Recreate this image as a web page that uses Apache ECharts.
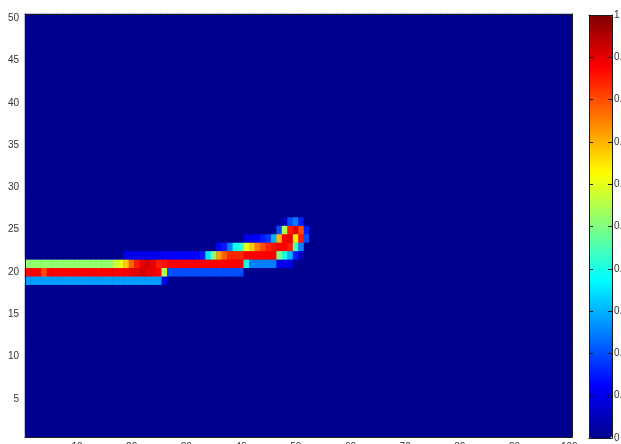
<!DOCTYPE html>
<html>
<head>
<meta charset="utf-8">
<script src="https://cdn.jsdelivr.net/npm/echarts@6/dist/echarts.min.js"></script>
<style>html,body{margin:0;padding:0;background:#fff}#c{width:621px;height:444px}</style>
</head>
<body>
<div id="c"></div>
<script>
// Grid size (columns 1..100, rows 1..50)
const nCols = 100;
const nRows = 50;
const xTickLabels = [10, 20, 30, 40, 50, 60, 70, 80, 90, 100];
const yTickLabels = [5, 10, 15, 20, 25, 30, 35, 40, 45, 50];

// Non-zero rows (values for columns 1..52; every other cell is 0)
const row19 = [0.28,0.28,0.28,0.28,0.28,0.28,0.28,0.28,0.28,0.28,
  0.28,0.28,0.28,0.28,0.28,0.28,0.28,0.28,0.28,0.28,
  0.28,0.28,0.28,0.28,0.28,0.1,0,0,0,0,
  0,0,0,0,0,0,0,0,0,0,
  0,0,0,0,0,0,0,0,0,0,
  0,0];
const row20 = [0.88,0.88,0.88,0.8,0.88,0.88,0.88,0.88,0.88,0.88,
  0.88,0.88,0.88,0.88,0.88,0.88,0.88,0.88,0.88,0.9,
  0.9,0.92,0.9,0.9,0.88,0.55,0.2,0.2,0.2,0.2,
  0.2,0.2,0.2,0.2,0.2,0.2,0.2,0.2,0.2,0.2,
  0,0,0,0,0,0,0,0,0,0,
  0,0];
const row21 = [0.52,0.52,0.52,0.52,0.52,0.52,0.52,0.52,0.52,0.52,
  0.52,0.52,0.52,0.52,0.52,0.52,0.56,0.6,0.68,0.78,
  0.85,0.9,0.92,0.9,0.85,0.86,0.88,0.88,0.88,0.88,
  0.88,0.88,0.88,0.88,0.88,0.88,0.88,0.88,0.88,0.88,
  0.4,0.25,0.25,0.25,0.25,0.25,0.1,0.1,0.1,0,
  0,0];
const row22 = [0,0,0,0,0,0,0,0,0,0,
  0,0,0,0,0,0,0,0,0.1,0.1,
  0.1,0.1,0.1,0.1,0.1,0.12,0.12,0.12,0.12,0.12,
  0.12,0.12,0.15,0.35,0.5,0.72,0.78,0.84,0.84,0.84,
  0.88,0.88,0.88,0.88,0.88,0.88,0.5,0.4,0.3,0.15,
  0.05,0];
const row23 = [0,0,0,0,0,0,0,0,0,0,
  0,0,0,0,0,0,0,0,0,0,
  0,0,0,0,0,0,0,0,0,0,
  0,0,0,0,0,0.12,0.15,0.25,0.38,0.42,
  0.6,0.68,0.75,0.8,0.84,0.86,0.88,0.88,0.85,0.45,
  0.25,0];
const row24 = [0,0,0,0,0,0,0,0,0,0,
  0,0,0,0,0,0,0,0,0,0,
  0,0,0,0,0,0,0,0,0,0,
  0,0,0,0,0,0,0,0,0,0,
  0.1,0.1,0.12,0.15,0.18,0.3,0.7,0.88,0.9,0.65,
  0.85,0.2];
const row25 = [0,0,0,0,0,0,0,0,0,0,
  0,0,0,0,0,0,0,0,0,0,
  0,0,0,0,0,0,0,0,0,0,
  0,0,0,0,0,0,0,0,0,0,
  0,0,0,0,0,0,0.2,0.55,0.85,0.9,
  0.8,0.15];
const row26 = [0,0,0,0,0,0,0,0,0,0,
  0,0,0,0,0,0,0,0,0,0,
  0,0,0,0,0,0,0,0,0,0,
  0,0,0,0,0,0,0,0,0,0,
  0,0,0,0,0,0,0,0.05,0.2,0.25,
  0.15,0];

const rowTable = {19: row19, 20: row20, 21: row21, 22: row22, 23: row23, 24: row24, 25: row25, 26: row26};

const xCats = [];
for (let i = 1; i <= nCols; i++) xCats.push(String(i));
const yCats = [];
for (let j = 1; j <= nRows; j++) yCats.push(String(j));

const cells = [];
for (let j = 1; j <= nRows; j++) {
  const r = rowTable[j];
  for (let i = 1; i <= nCols; i++) {
    const v = (r && i - 1 < r.length) ? r[i - 1] : 0;
    cells.push([i - 1, j - 1, v]);
  }
}

const jet = ['#00008F', '#0000FF', '#0080FF', '#00FFFF', '#80FF80', '#FFFF00', '#FF8000', '#FF0000', '#800000'];
const FONT = 'Liberation Sans, Arial, sans-serif';
const LINE = '#1a1a1a';
const xShow = (idx, val) => xTickLabels.indexOf(Number(val)) >= 0;
const yShow = (idx, val) => yTickLabels.indexOf(Number(val)) >= 0;

const chart = echarts.init(document.getElementById('c'), null, {renderer: 'canvas'});
chart.setOption({
  animation: false,
  backgroundColor: '#ffffff',
  grid: [
    {left: 25, top: 14, width: 547, height: 423, outerBoundsMode: 'none', containLabel: false,
     show: true, backgroundColor: '#00008F', borderWidth: 0},
    {left: 589, top: 15, width: 23, height: 423, outerBoundsMode: 'none', containLabel: false}
  ],
  xAxis: [
    {type: 'category', gridIndex: 0, data: xCats, position: 'bottom', z: 10,
     axisLine: {lineStyle: {color: LINE, width: 1}},
     axisTick: {inside: true, alignWithLabel: true, interval: xShow, length: 4, lineStyle: {color: LINE}},
     axisLabel: {interval: xShow, fontSize: 10, color: '#333', fontFamily: FONT, margin: 5},
     splitLine: {show: false}},
    {type: 'category', gridIndex: 0, data: xCats, position: 'top', z: 10,
     axisLine: {lineStyle: {color: LINE, width: 1}},
     axisTick: {inside: true, alignWithLabel: true, interval: xShow, length: 4, lineStyle: {color: LINE}},
     axisLabel: {show: false}, splitLine: {show: false}},
    {type: 'value', gridIndex: 1, min: 0, max: 1, position: 'bottom', z: 10,
     axisLine: {show: true, onZero: false, lineStyle: {color: LINE}},
     axisTick: {show: false}, axisLabel: {show: false}, splitLine: {show: false}},
    {type: 'value', gridIndex: 1, min: 0, max: 1, position: 'top', z: 10,
     axisLine: {show: true, onZero: false, lineStyle: {color: LINE}},
     axisTick: {show: false}, axisLabel: {show: false}, splitLine: {show: false}}
  ],
  yAxis: [
    {type: 'category', gridIndex: 0, data: yCats, position: 'left', z: 10,
     axisLine: {lineStyle: {color: LINE, width: 1}},
     axisTick: {inside: true, alignWithLabel: true, interval: yShow, length: 4, lineStyle: {color: LINE}},
     axisLabel: {interval: yShow, fontSize: 10, color: '#333', fontFamily: FONT, margin: 6},
     splitLine: {show: false}},
    {type: 'category', gridIndex: 0, data: yCats, position: 'right', z: 10,
     axisLine: {lineStyle: {color: LINE, width: 1}},
     axisTick: {inside: true, alignWithLabel: true, interval: yShow, length: 4, lineStyle: {color: LINE}},
     axisLabel: {show: false}, splitLine: {show: false}},
    {type: 'value', gridIndex: 1, min: 0, max: 1, interval: 0.1, position: 'left', z: 10,
     axisLine: {show: true, onZero: false, lineStyle: {color: LINE}},
     axisTick: {inside: true, length: 4, lineStyle: {color: LINE}},
     axisLabel: {show: false}, splitLine: {show: false}},
    {type: 'value', gridIndex: 1, min: 0, max: 1, interval: 0.1, position: 'right', z: 10,
     axisLine: {show: true, onZero: false, lineStyle: {color: LINE}},
     axisTick: {inside: true, length: 4, lineStyle: {color: LINE}},
     axisLabel: {fontSize: 10, color: '#333', fontFamily: FONT, margin: 2,
       formatter: v => (Math.abs(v - 1) < 1e-9 ? '1' : (Math.abs(v) < 1e-9 ? '0' : '0.'))},
     splitLine: {show: false}}
  ],
  visualMap: {
    type: 'continuous', min: 0, max: 1, dimension: 2, seriesIndex: 0,
    calculable: false, hoverLink: false, realtime: false,
    left: 589, top: 15, itemWidth: 23, itemHeight: 423, padding: 0,
    text: null, showLabel: false,
    inRange: {color: jet}
  },
  series: [{
    type: 'heatmap', xAxisIndex: 0, yAxisIndex: 0, data: cells,
    progressive: 0, emphasis: {disabled: true}, silent: true,
    itemStyle: {borderWidth: 0}
  }]
});
</script>
</body>
</html>
